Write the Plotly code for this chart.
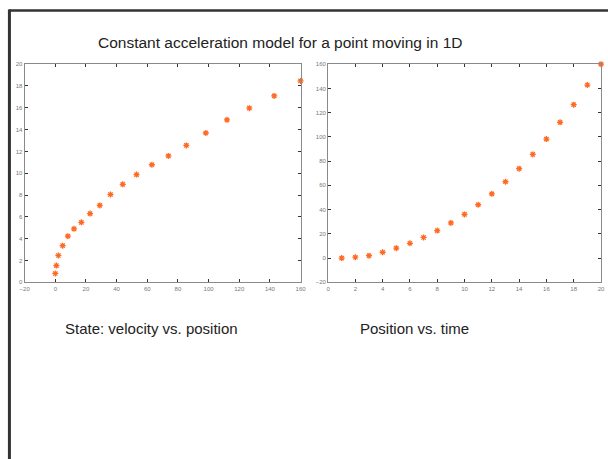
import plotly.graph_objects as go

# Simulated 1D motion under constant acceleration
time_s = [1, 2, 3, 4, 5, 6, 7, 8, 9, 10, 11, 12, 13, 14, 15, 16, 17, 18, 19, 20]
position = [0.0, 0.7, 2.0, 4.8, 8.2, 12.2, 17.0, 22.7, 29.0, 36.0,
            44.0, 53.0, 63.0, 73.8, 85.5, 98.2, 112.0, 126.6, 142.8, 160.0]
velocity = [0.81, 1.53, 2.46, 3.36, 4.23, 4.9, 5.5, 6.3, 7.05, 8.05,
            8.98, 9.88, 10.78, 11.59, 12.55, 13.69, 14.9, 15.97, 17.09, 18.47]

title_text = "Constant acceleration model for a point moving in 1D"
left_caption = "State: velocity vs. position"
right_caption = "Position vs. time"

W, H = 608, 459
FONT = "Liberation Sans, Arial, sans-serif"
ORANGE = "#FF6A22"


def px_x(p):
    return p / W


def px_y(p):
    return 1 - p / H


fig = go.Figure()

marker = dict(symbol="asterisk-open", size=5, color=ORANGE,
              line=dict(color=ORANGE, width=1.3))

fig.add_trace(go.Scatter(x=position, y=velocity, mode="markers",
                         marker=marker, xaxis="x", yaxis="y",
                         cliponaxis=False, showlegend=False))
fig.add_trace(go.Scatter(x=time_s, y=position, mode="markers",
                         marker=marker, xaxis="x2", yaxis="y2",
                         cliponaxis=False, showlegend=False))

axis_style = dict(
    showline=True, linecolor="#8a8a8a", linewidth=1, mirror="ticks",
    ticks="inside", ticklen=3, tickcolor="#333", tickwidth=1,
    showgrid=False, zeroline=False,
    tickfont=dict(size=6, color="#777", family=FONT),
)

ydom = [px_y(283), px_y(62)]

fig.update_layout(
    width=W, height=H,
    margin=dict(l=0, r=0, t=0, b=0),
    paper_bgcolor="white", plot_bgcolor="white",
    xaxis=dict(domain=[px_x(20), px_x(301)], range=[-20, 160], dtick=20,
               anchor="y", **axis_style),
    yaxis=dict(domain=ydom, range=[0, 20], dtick=2, anchor="x", **axis_style),
    xaxis2=dict(domain=[px_x(329), px_x(607)], range=[0, 20], dtick=2,
                anchor="y2", **axis_style),
    yaxis2=dict(domain=ydom, range=[-20, 160], dtick=20, anchor="x2",
                **axis_style),
)

# Slide frame: heavy rules along the top and left
fig.add_shape(type="line", xref="paper", yref="paper",
              x0=px_x(4), x1=1.01, y0=px_y(7.5), y1=px_y(7.5),
              line=dict(color="#333", width=2.5))
fig.add_shape(type="line", xref="paper", yref="paper",
              x0=px_x(4.5), x1=px_x(4.5), y0=px_y(6.5), y1=-0.01,
              line=dict(color="#333", width=3))

text_common = dict(xref="paper", yref="paper", showarrow=False,
                   xanchor="center", yanchor="middle")
fig.add_annotation(text=title_text, x=px_x(280), y=px_y(40),
                   font=dict(size=15.5, color="#222", family=FONT),
                   **text_common)
fig.add_annotation(text=left_caption, x=px_x(149), y=px_y(330),
                   font=dict(size=15, color="#222", family=FONT),
                   **text_common)
fig.add_annotation(text=right_caption, x=px_x(417), y=px_y(330),
                   font=dict(size=15, color="#222", family=FONT),
                   **text_common)

fig.write_html("out.html")
